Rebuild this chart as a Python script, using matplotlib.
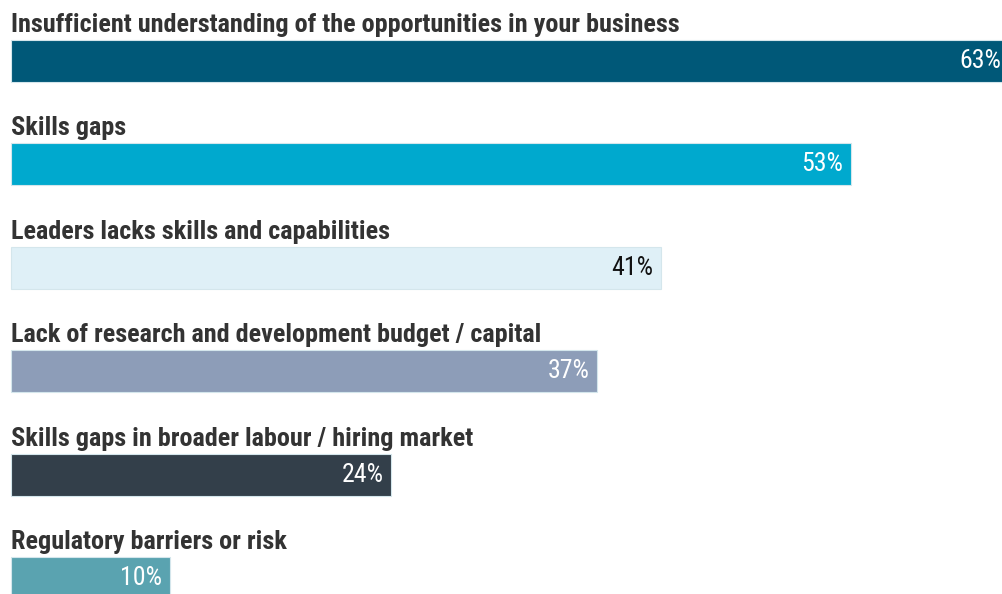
import matplotlib.pyplot as plt
from matplotlib import font_manager

# Survey answers, top to bottom
labels = [
    'Insufficient understanding of the opportunities in your business',
    'Skills gaps',
    'Leaders lacks skills and capabilities',
    'Lack of research and development budget / capital',
    'Skills gaps in broader labour / hiring market',
    'Regulatory barriers or risk',
]
values = [63, 53, 41, 37, 24, 10]
colors = ['#005878', '#00a9ce', '#dff0f7', '#8d9db8', '#333f4a', '#5aa3b0']
value_colors = ['white', 'white', '#111111', 'white', 'white', 'white']

# pick a narrow face if one is around
names = {f.name for f in font_manager.fontManager.ttflist}
family = 'Roboto'
for cand in ['Roboto Condensed', 'Liberation Sans Narrow']:
    if cand in names:
        family = cand
        break

fig = plt.figure(figsize=(10.03, 5.94), dpi=100)
ax = fig.add_axes([0, 0, 1, 1])

px = 15.85          # pixels per percentage point
row = 103.4         # pixels between rows
bar_h = 42 / row

pos = list(range(len(values)))
ax.barh(pos, values, height=bar_h, color=colors, edgecolor='#d4e6ec', linewidth=0.8)

for i, (lab, v) in enumerate(zip(labels, values)):
    ax.text(0, i - bar_h / 2 - 8 / row, lab, ha='left', va='baseline',
            fontsize=18.9, fontweight='bold', color='#333333', family=family)
    ax.text(v - 8 / px, i, f'{v}%', ha='right', va='center',
            fontsize=18.6, color=value_colors[i], family=family)

ax.set_xlim(-11 / px, (1003 - 11) / px)
ax.set_ylim((594 - 61) / row, -61 / row)
ax.axis('off')

fig.savefig('out.png', dpi=100, facecolor='white')
